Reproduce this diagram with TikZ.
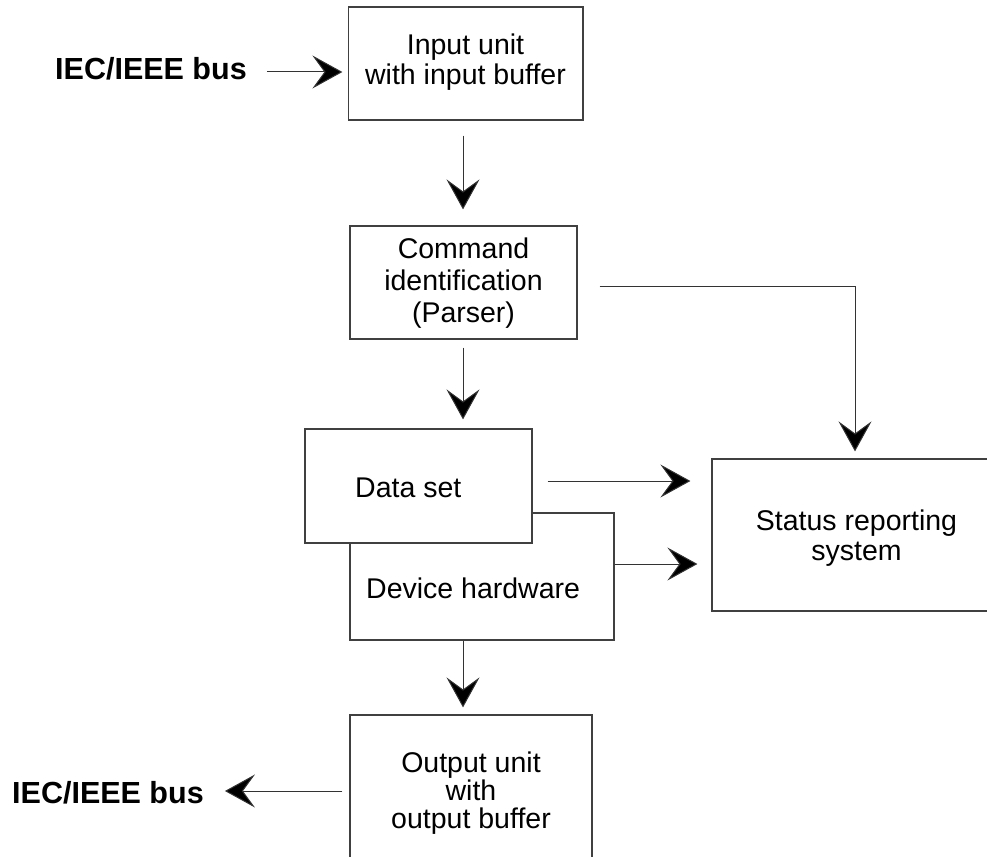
\documentclass[tikz,border=0pt]{standalone}
\usepackage{fontspec}
\setmainfont{Liberation Sans}
\usetikzlibrary{arrows.meta}
\begin{document}
\begin{tikzpicture}[x=1pt,y=-1pt,
  box/.style={draw=black!75,line width=1.2pt,fill=white,inner sep=0pt},
  txt/.style={inner sep=0pt,anchor=base,font=\fontsize{28.5}{30}\selectfont},
  btxt/.style={inner sep=0pt,anchor=base west,font=\fontsize{30.5}{32}\selectfont\bfseries},
  arr/.style={draw=black!80,line width=1pt,-{Stealth[length=30pt,width=33pt,inset=12pt,fill=black]}}]
\useasboundingbox (0,0) rectangle (987,856);
% boxes
\node[box,minimum width=234.5pt,minimum height=113pt] (in) at (465.75,63.5) {};
\node[box,minimum width=227pt,minimum height=113pt] (cmd) at (463.5,282.5) {};
\node[box,minimum width=264pt,minimum height=127pt] (dev) at (482,576.5) {};
\node[box,minimum width=227pt,minimum height=114pt] (data) at (418.5,486) {};
\node[box,minimum width=283pt,minimum height=152pt] (stat) at (853.5,535) {};
\node[box,minimum width=242pt,minimum height=155pt] (out) at (471,792.5) {};
% texts
\node[txt] (in1) at (465.5,55) {Input unit};
\node[txt] (in2) at (465.5,85) {with input buffer};
\node[txt] (cmd1) at (463.5,258) {Command};
\node[txt] (cmd2) at (463.5,290) {identification};
\node[txt] (cmd3) at (463.5,322) {(Parser)};
\node[txt,anchor=base west] (datat) at (355,497) {Data set};
\node[txt,anchor=base west] (devt) at (366,598) {Device hardware};
\node[txt] (st1) at (856.5,530) {Status reporting};
\node[txt] (st2) at (856.5,560) {system};
\node[txt] (out1) at (471,772) {Output unit};
\node[txt] (out2) at (471,800) {with};
\node[txt] (out3) at (471,828) {output buffer};
\node[btxt] (busin) at (55,80) {IEC/IEEE bus};
\node[btxt] (busout) at (12,803) {IEC/IEEE bus};
% helper coordinates
\coordinate (ax) at (463,0);
\coordinate (yin) at (0,72);
\coordinate (ycmd) at (0,286);
\coordinate (xst) at (855,0);
\coordinate (ydata) at (0,481);
\coordinate (ydev) at (0,564);
\coordinate (yout) at (0,791);
% connectors
\draw[arr,shorten >=5.5pt] (busin.east |- yin) ++(20,0) -- (in.west |- yin);
\draw[arr,shorten <=15pt,shorten >=16pt] (in.south -| ax) -- (cmd.north -| ax);
\draw[arr,shorten <=8pt,shorten >=9pt] (cmd.south -| ax) -- (data.north -| ax);
\draw[arr,shorten <=22pt,shorten >=7pt] (cmd.east |- ycmd) -| (stat.north -| xst);
\draw[arr,shorten <=15pt,shorten >=21pt] (data.east |- ydata) -- (stat.west |- ydata);
\draw[arr,shorten >=14pt] (dev.east |- ydev) -- (stat.west |- ydev);
\draw[arr,shorten >=7pt] (dev.south -| ax) -- (out.north -| ax);
\draw[arr,shorten <=7pt,shorten >=21pt] (out.west |- yout) -- (busout.east |- yout);
\end{tikzpicture}
\end{document}
